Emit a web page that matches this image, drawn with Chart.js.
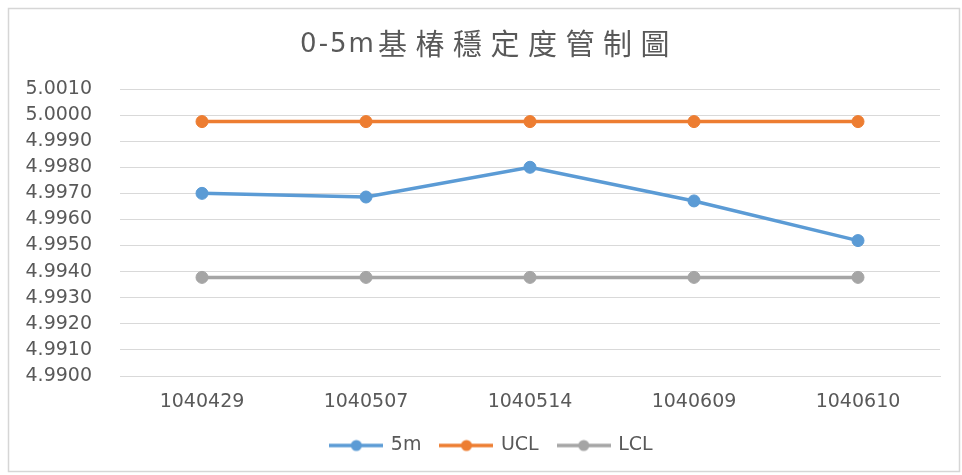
<!DOCTYPE html>
<html>
<head>
<meta charset="utf-8">
<script src="https://cdn.jsdelivr.net/npm/chart.js@4/dist/chart.umd.min.js"></script>
<style>
  html, body { margin: 0; padding: 0; background: #ffffff; }
  #wrap { width: 962px; height: 475px; position: relative; }
</style>
</head>
<body>
<div id="wrap"><canvas id="c" width="962" height="475"></canvas></div>
<script>
// Survey dates (ROC calendar) and measured pile values
const dates = ['1040429', '1040507', '1040514', '1040609', '1040610'];
const seriesNames = ['5m', 'UCL', 'LCL'];
const values5m = [4.9970, 4.99686, 4.9980, 4.99671, 4.99519];
const valuesUCL = [4.99975, 4.99975, 4.99975, 4.99975, 4.99975];
const valuesLCL = [4.99378, 4.99378, 4.99378, 4.99378, 4.99378];
const yMin = 4.9900;
const yMax = 5.0010;
const yStep = 0.0010;
const titleLatin = '0-5m';
const titleCJK = '基椿穩定度管制圖';

const colors = ['#5B9BD5', '#ED7D31', '#A5A5A5'];
const textColor = '#595959';
const gridColor = '#D9D9D9';

// Legend swatch: a short line with a round marker in the middle
function makeSwatch(color) {
  const cv = document.createElement('canvas');
  cv.width = 54; cv.height = 14;
  const g = cv.getContext('2d');
  g.strokeStyle = color;
  g.lineWidth = 3.5;
  g.beginPath();
  g.moveTo(0, 7); g.lineTo(54, 7);
  g.stroke();
  g.fillStyle = color;
  g.beginPath();
  g.arc(27, 7, 5.5, 0, Math.PI * 2);
  g.fill();
  return cv;
}
const swatches = colors.map(makeSwatch);

// White background, light frame, spaced title, legend nudged right
const framePlugin = {
  id: 'frame',
  afterLayout(chart) {
    const lg = chart.legend;
    if (lg) { lg.left += 22; lg.right += 22; }
  },
  beforeDraw(chart) {
    const ctx = chart.ctx;
    ctx.save();
    ctx.fillStyle = '#ffffff';
    ctx.fillRect(0, 0, chart.width, chart.height);
    ctx.strokeStyle = '#D6D6D6';
    ctx.lineWidth = 1.5;
    ctx.strokeRect(8.5, 8.5, 951, 463);
    ctx.restore();
  },
  afterDraw(chart) {
    const ctx = chart.ctx;
    ctx.save();
    ctx.fillStyle = textColor;
    ctx.textBaseline = 'middle';
    ctx.textAlign = 'left';
    const latinFont = "26px 'DejaVu Sans', sans-serif";
    const cjkFont = "29px 'Noto Sans CJK TC', 'Noto Sans CJK SC', sans-serif";
    ctx.font = latinFont;
    ctx.letterSpacing = '2px';
    const w1 = ctx.measureText(titleLatin).width;
    ctx.font = cjkFont;
    ctx.letterSpacing = '8.5px';
    const w2 = ctx.measureText(titleCJK).width;
    let x = 488 - (w1 + w2) / 2;
    const y = 45;
    ctx.font = latinFont;
    ctx.letterSpacing = '2px';
    ctx.fillText(titleLatin, x, y);
    x += w1 + 2;
    ctx.font = cjkFont;
    ctx.letterSpacing = '8.5px';
    ctx.fillText(titleCJK, x, y - 1);
    ctx.restore();
  }
};

function lineSet(label, data, color) {
  return {
    label: label,
    data: data,
    borderColor: color,
    backgroundColor: color,
    borderWidth: 3.5,
    pointRadius: 6,
    pointHoverRadius: 6,
    pointBackgroundColor: color,
    pointBorderColor: color,
    pointBorderWidth: 1,
    tension: 0,
    fill: false
  };
}

new Chart(document.getElementById('c'), {
  type: 'line',
  data: {
    labels: dates,
    datasets: [
      lineSet(seriesNames[0], values5m, colors[0]),
      lineSet(seriesNames[1], valuesUCL, colors[1]),
      lineSet(seriesNames[2], valuesLCL, colors[2])
    ]
  },
  options: {
    responsive: false,
    animation: false,
    events: [],
    layout: { padding: { top: 89, left: 0, right: 22, bottom: 10 } },
    plugins: {
      title: { display: false },
      tooltip: { enabled: false },
      legend: {
        display: true,
        position: 'bottom',
        labels: {
          usePointStyle: true,
          pointStyleWidth: 50,
          padding: 20,
          color: textColor,
          font: { family: "'DejaVu Sans', sans-serif", size: 19 },
          generateLabels(chart) {
            const items = Chart.defaults.plugins.legend.labels.generateLabels(chart);
            items.forEach((it, i) => { it.pointStyle = swatches[i]; });
            return items;
          }
        }
      }
    },
    scales: {
      x: {
        offset: true,
        grid: { display: false, drawTicks: false },
        border: { display: true, color: gridColor },
        ticks: {
          color: textColor,
          padding: 15,
          font: { family: "'DejaVu Sans', sans-serif", size: 19 }
        },
        afterFit(scale) { scale.height = 40; }
      },
      y: {
        min: yMin,
        max: yMax,
        grid: { color: gridColor, lineWidth: 1, drawTicks: false },
        border: { display: false },
        ticks: {
          stepSize: yStep,
          maxTicksLimit: 20,
          color: textColor,
          padding: 28,
          font: { family: "'DejaVu Sans', sans-serif", size: 19 },
          callback: (v) => Number(v).toFixed(4)
        },
        afterFit(scale) { scale.width = 120; }
      }
    }
  },
  plugins: [framePlugin]
});
</script>
</body>
</html>
